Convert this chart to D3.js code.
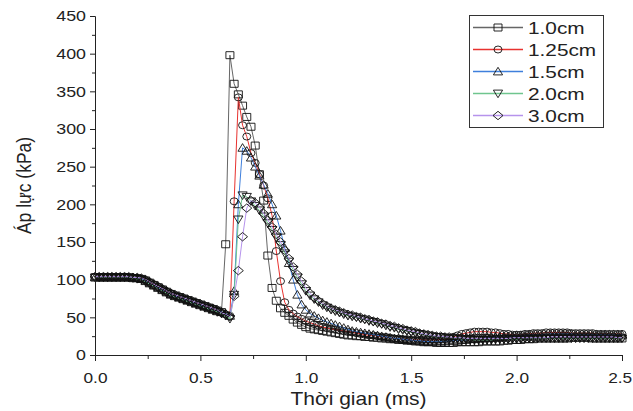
<!DOCTYPE html>
<html><head><meta charset="utf-8">
<script src="https://cdn.jsdelivr.net/npm/d3@7"></script>
<style>body{margin:0;background:#fff}svg{display:block}</style>
</head><body>
<svg id="chart" width="633" height="411"></svg>
<script>
// ---- data ----
const time = [
0.00,0.02,0.04,0.06,0.08,0.10,0.12,0.14,0.16,0.18,
0.20,0.22,0.24,0.26,0.28,0.30,0.32,0.34,0.36,0.38,
0.40,0.42,0.44,0.46,0.48,0.50,0.52,0.54,0.56,0.58,
0.60,0.62,0.64,0.66,0.68,0.70,0.72,0.74,0.76,0.78,
0.80,0.82,0.84,0.86,0.88,0.90,0.92,0.94,0.96,0.98,
1.00,1.02,1.04,1.06,1.08,1.10,1.12,1.14,1.16,1.18,
1.20,1.22,1.24,1.26,1.28,1.30,1.32,1.34,1.36,1.38,
1.40,1.42,1.44,1.46,1.48,1.50,1.52,1.54,1.56,1.58,
1.60,1.62,1.64,1.66,1.68,1.70,1.72,1.74,1.76,1.78,
1.80,1.82,1.84,1.86,1.88,1.90,1.92,1.94,1.96,1.98,
2.00,2.02,2.04,2.06,2.08,2.10,2.12,2.14,2.16,2.18,
2.20,2.22,2.24,2.26,2.28,2.30,2.32,2.34,2.36,2.38,
2.40,2.42,2.44,2.46,2.48,2.50];

const seriesNames = ["1.0cm", "1.25cm", "1.5cm", "2.0cm", "3.0cm"];

const p10 = [
103,103,103,103,103,103,103,103,103,102,
102,101,99,96,93,90,87,84,81,79,
77,75,73,71,69,67,65,63,61,59,
57,147,398,360,346,331,316,303,278,240,
205,132,89,72,62,56,52,47,43,40,
37,35,34,33,32,31,30,29,28,27,
26,26,25,25,24,24,23,23,22,22,
21,21,20,20,19,19,18,18,17,17,
17,16,16,16,16,16,17,17,17,17,
17,17,18,18,18,18,18,19,19,20,
20,20,21,21,21,22,22,22,22,22,
22,22,22,23,23,23,23,23,22,22,
22,22,22,22,22,22];

const p125 = [
104,104,104,104,104,104,104,104,103,103,
102,101,99,96,93,90,87,84,82,79,
77,75,73,71,69,67,65,63,61,59,
56,54,52,204,342,305,290,268,255,240,
225,208,185,138,98,70,60,55,51,48,
45,43,41,39,37,36,35,34,33,32,
31,30,29,28,27,26,26,25,24,24,
23,22,22,21,21,20,20,20,20,20,
20,20,21,21,22,24,26,28,29,30,
31,31,31,31,30,30,29,28,28,27,
27,27,28,28,29,29,29,30,30,30,
30,30,30,29,29,29,29,29,29,28,
28,28,28,28,28,28];

const p15 = [
103,103,103,103,103,103,103,103,103,103,
102,101,98,95,92,89,86,83,80,78,
76,74,72,70,68,66,64,62,60,58,
57,55,52,85,200,275,271,262,250,238,
226,214,200,185,165,142,122,100,80,67,
60,55,52,49,46,44,42,40,38,36,
34,32,31,30,29,28,27,26,25,24,
23,22,22,21,20,20,19,19,18,18,
18,18,18,18,19,19,19,20,20,21,
21,22,22,23,23,24,24,25,25,25,
26,26,26,27,27,27,27,27,28,28,
28,28,28,28,27,27,27,27,27,27,
27,27,27,27,27,27];

const p20 = [
103,103,103,103,103,103,103,103,103,102,
101,100,97,94,91,88,85,82,79,77,
75,73,71,69,67,65,63,61,59,57,
55,52,48,80,180,212,210,204,198,192,
184,175,166,156,146,135,124,113,103,94,
85,79,74,70,66,63,60,58,56,54,
52,51,50,48,47,45,44,42,41,39,
37,36,34,33,32,30,29,28,27,26,
25,24,24,23,23,22,22,21,21,21,
20,20,20,20,20,21,21,21,21,21,
21,21,22,22,22,22,22,22,22,22,
22,22,22,22,22,22,22,22,22,22,
22,22,22,22,22,22];

const p30 = [
104,104,104,104,104,104,104,104,104,103,
103,102,100,97,94,91,88,85,82,80,
78,76,74,72,70,68,66,64,62,60,
56,54,51,78,112,157,195,205,202,196,
188,179,170,160,150,139,128,117,107,98,
89,82,76,72,68,65,62,60,58,56,
54,53,51,50,48,47,45,44,42,41,
39,38,36,35,33,32,31,29,28,27,
26,25,25,24,24,23,23,23,22,22,
22,22,22,22,22,22,22,22,22,23,
23,23,23,23,23,23,23,23,24,24,
24,24,24,24,24,24,24,24,24,24,
24,24,24,24,23,23];

const xTickValues = [0, 0.5, 1.0, 1.5, 2.0, 2.5];
const xMinorValues = [0.25, 0.75, 1.25, 1.75, 2.25];
const yTickValues = [0, 50, 100, 150, 200, 250, 300, 350, 400, 450];
const yMinorValues = [25, 75, 125, 175, 225, 275, 325, 375, 425];
const xTitle = "Thời gian (ms)";
const yTitle = "Áp lực (kPa)";

// ---- styling ----
const colors = ["#666666", "#e8322f", "#3f7fdc", "#6fc58e", "#b693ec"];
const shapes = ["square", "circle", "triangle", "triangleDown", "diamond"];
const SX = 1.15; // horizontal text stretch seen in the reference
const FONT = "Arial, 'Liberation Sans', sans-serif";

const svg = d3.select("#chart");
const x = d3.scaleLinear().domain([0, 2.5]).range([95, 622]);
const y = d3.scaleLinear().domain([0, 450]).range([355, 16]);

function markerPath(shape) {
  switch (shape) {
    case "square": return "M-4,-3.5H4V3.5H-4Z";
    case "circle": return "M-4,0A4,3.5 0 1,0 4,0A4,3.5 0 1,0 -4,0Z";
    case "triangle": return "M0,-4.2L4.6,3.4L-4.6,3.4Z";
    case "triangleDown": return "M0,4.2L4.6,-3.4L-4.6,-3.4Z";
    case "diamond": return "M0,-4.2L5,0L0,4.2L-5,0Z";
  }
}

const allSeries = [p10, p125, p15, p20, p30];

// series
const line = d3.line().x((d, i) => x(time[i])).y(d => y(d));
allSeries.forEach((vals, k) => {
  const g = svg.append("g");
  g.append("path").datum(vals).attr("d", line)
    .attr("fill", "none").attr("stroke", colors[k]).attr("stroke-width", 1);
  g.selectAll("path.m").data(vals).enter().append("path").attr("class", "m")
    .attr("d", markerPath(shapes[k]))
    .attr("transform", (d, i) => `translate(${x(time[i])},${y(d)})`)
    .attr("fill", "none").attr("stroke", "#111").attr("stroke-width", 0.9);
});

// axes
const xAxis = svg.append("g").attr("transform", `translate(0,${y(0)})`)
  .call(d3.axisBottom(x).tickValues(xTickValues).tickSize(6).tickPadding(11).tickFormat(d3.format(".1f")));
svg.append("g").attr("transform", `translate(0,${y(0)})`)
  .call(d3.axisBottom(x).tickValues(xMinorValues).tickSize(4).tickFormat(""))
  .select(".domain").remove();
const yAxis = svg.append("g").attr("transform", `translate(${x(0)},0)`)
  .call(d3.axisLeft(y).tickValues(yTickValues).tickSize(5).tickPadding(4).tickFormat(d3.format("d")));
svg.append("g").attr("transform", `translate(${x(0)},0)`)
  .call(d3.axisLeft(y).tickValues(yMinorValues).tickSize(3).tickFormat(""))
  .select(".domain").remove();

svg.selectAll(".domain").attr("stroke", "#222").attr("stroke-width", 1);
svg.selectAll(".tick line").attr("stroke", "#222");
xAxis.selectAll("text").attr("font-size", 15).attr("font-family", FONT).attr("fill", "#222")
  .attr("transform", `scale(${SX},1)`)
  .attr("dx", d => d === 2.5 ? -2 : 0);
yAxis.selectAll("text").attr("font-size", 15.5).attr("font-family", FONT).attr("fill", "#222")
  .attr("transform", `scale(${SX},1)`).attr("x", -9 / SX);

// titles
svg.append("text").attr("transform", `translate(${(x(0) + x(2.5)) / 2},405) scale(1.2,1)`)
  .attr("text-anchor", "middle").attr("font-size", 17.5).attr("font-family", FONT).attr("fill", "#222")
  .text(xTitle);
svg.append("text").attr("transform", `translate(31,${(y(0) + y(450)) / 2}) rotate(-90) scale(1,1.2)`)
  .attr("text-anchor", "middle").attr("font-size", 17.5).attr("font-family", FONT).attr("fill", "#222")
  .text(yTitle);

// legend
const lg = svg.append("g");
lg.append("rect").attr("x", 469.5).attr("y", 15.5).attr("width", 134).attr("height", 112)
  .attr("fill", "#fff").attr("stroke", "#333").attr("stroke-width", 1);
seriesNames.forEach((name, k) => {
  const yy = 27.5 + k * 22;
  lg.append("line").attr("x1", 473).attr("x2", 523).attr("y1", yy).attr("y2", yy)
    .attr("stroke", colors[k]).attr("stroke-width", 1.3);
  lg.append("path").attr("d", markerPath(shapes[k])).attr("transform", `translate(498,${yy})`)
    .attr("fill", "none").attr("stroke", "#111").attr("stroke-width", 0.9);
  lg.append("text").attr("transform", `translate(528,${yy + 6}) scale(1.3,1)`)
    .attr("font-size", 16).attr("font-family", FONT).attr("fill", "#222").text(name);
});
</script>
</body></html>
